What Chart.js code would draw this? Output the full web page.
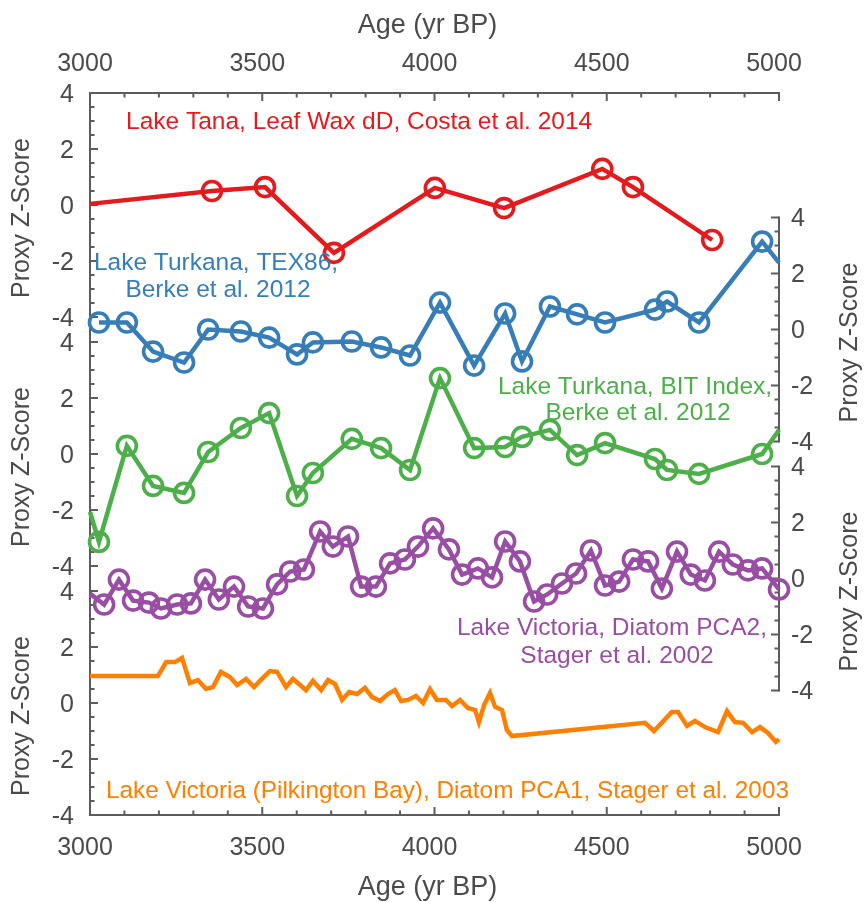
<!DOCTYPE html>
<html>
<head>
<meta charset="utf-8">
<script src="https://cdn.jsdelivr.net/npm/chart.js"></script>
<style>
html,body{margin:0;padding:0;background:#fff;}
#wrap{width:866px;height:902px;position:relative;}
</style>
</head>
<body>
<div id="wrap"><canvas id="c"></canvas></div>
<script>
// ---------- data ----------
const xTickValues = [3000, 3500, 4000, 4500, 5000];
const zTickValues = [-4, -2, 0, 2, 4];

// Lake Tana, Leaf Wax dD (Costa et al. 2014)
const tanaAge = [3354, 3508, 3708, 4001, 4202, 4487, 4576, 4806];
const tanaZ   = [0.50, 0.64, -1.71, 0.61, -0.11, 1.29, 0.64, -1.25];
const tanaEdgeAge = [3000];
const tanaEdgeZ   = [0.04];

// Lake Turkana (Berke et al. 2012) - shared sample ages
const turkanaAge = [3026, 3107, 3183, 3273, 3343, 3438, 3520, 3601, 3647, 3760, 3845, 3929,
                    4016, 4115, 4205, 4254, 4335, 4414, 4495, 4640, 4675, 4768, 4951];
const tex86Z = [0.25, 0.25, -0.79, -1.18, 0.00, -0.07, -0.29, -0.89, -0.46, -0.43, -0.64, -0.93,
                0.96, -1.29, 0.57, -1.14, 0.82, 0.54, 0.25, 0.71, 1.00, 0.25, 3.14];
const tex86EdgeAge = [5000];
const tex86EdgeZ   = [2.39];
const bitZ = [-3.14, 0.29, -1.14, -1.39, 0.07, 0.93, 1.46, -1.50, -0.68, 0.54, 0.21, -0.57,
              2.71, 0.21, 0.25, 0.61, 0.86, -0.04, 0.39, -0.18, -0.57, -0.71, 0.00];
const bitEdgeAge = [3000, 5000];
const bitEdgeZ   = [-2.07, 0.86];

// Lake Victoria, Diatom PCA2 (Stager et al. 2002)
const pca2Age = [3041, 3084, 3125, 3171, 3206, 3253, 3293, 3334, 3374, 3418, 3459, 3502,
                 3543, 3581, 3621, 3668, 3705, 3749, 3787, 3830, 3871, 3914, 3952, 3996,
                 4042, 4080, 4126, 4167, 4205, 4248, 4289, 4327, 4370, 4411, 4454, 4495,
                 4536, 4576, 4620, 4660, 4704, 4744, 4785, 4826, 4866, 4910, 4951, 5000];
const pca2Z = [-0.93, -0.04, -0.79, -0.86, -1.07, -0.93, -0.89, -0.04, -0.75, -0.29, -1.00, -1.07,
               -0.21, 0.25, 0.32, 1.68, 1.14, 1.50, -0.29, -0.29, 0.54, 0.68, 1.14, 1.79,
               1.04, 0.14, 0.36, 0.04, 1.32, 0.61, -0.82, -0.57, -0.18, 0.18, 1.00, -0.25,
               -0.11, 0.68, 0.61, -0.36, 0.96, 0.14, -0.07, 0.96, 0.50, 0.29, 0.36, -0.39];
const pca2EdgeAge = [3000];
const pca2EdgeZ   = [-0.54];

// Lake Victoria (Pilkington Bay), Diatom PCA1 (Stager et al. 2003)
const pca1Age = [3000, 3197, 3221, 3247, 3267, 3290, 3313, 3337, 3357, 3380, 3406, 3427,
                 3453, 3476, 3499, 3522, 3543, 3569, 3589, 3610, 3627, 3647, 3671, 3691,
                 3711, 3732, 3752, 3775, 3798, 3819, 3842, 3865, 3885, 3903, 3923, 3946,
                 3967, 3987, 4007, 4033, 4051, 4074, 4097, 4118, 4129, 4144, 4161, 4176,
                 4196, 4210, 4225, 4611, 4637, 4689, 4707, 4733, 4756, 4785, 4823, 4849,
                 4872, 4896, 4922, 4945, 4968, 4991, 5000];
const pca1Z = [0.96, 0.96, 1.46, 1.46, 1.61, 0.71, 0.82, 0.50, 0.57, 1.11, 0.93, 0.64,
               0.86, 0.57, 0.86, 1.14, 1.11, 0.57, 0.86, 0.64, 0.46, 0.79, 0.46, 0.82,
               0.68, 0.11, 0.39, 0.32, 0.54, 0.21, 0.07, 0.32, 0.46, 0.07, 0.11, 0.25,
               0.00, 0.50, 0.11, 0.11, -0.11, 0.11, -0.18, -0.25, -0.68, -0.07, 0.36, -0.14,
               -0.25, -0.96, -1.18, -0.71, -1.00, -0.32, -0.32, -0.82, -0.64, -0.86, -1.04, -0.29,
               -0.68, -0.71, -1.04, -0.86, -1.07, -1.39, -1.29];

// ---------- styling ----------
const FONT = '"Liberation Sans", Arial, Helvetica, sans-serif';
const TXT = '#4a4a4a';
const AXC = '#5c5c5c';
const RED = '#E41A1C', BLUE = '#377EB8', GREEN = '#4DAF4A', PURPLE = '#984EA3', ORANGE = '#FF7F00';
const UNIT_SPAN = 722 / 28;          // z-units covered by the plot height
const PANEL_STEP = 124.5 / 28;       // vertical offset between stacked panels (z-units)

function pts(age, z, edgeAge, edgeZ) {
  const a = age.map((x, i) => ({x: x, y: z[i], m: true}));
  (edgeAge || []).forEach((x, i) => a.push({x: x, y: edgeZ[i], m: false}));
  a.sort((p, q) => p.x - q.x);
  return a;
}

function zScale(pos, k) {
  const max = 4 + k * PANEL_STEP;
  return {
    type: 'linear', position: pos, min: max - UNIT_SPAN, max: max,
    afterBuildTicks: s => { s.ticks = zTickValues.map(v => ({value: v})); },
    afterFit: s => { s.width = 0; },
    grid: {display: false, drawTicks: false},
    border: {display: false},
    ticks: {display: false}
  };
}
function xScale(pos) {
  return {
    type: 'linear', position: pos, min: 3000, max: 5000,
    afterBuildTicks: s => { s.ticks = xTickValues.map(v => ({value: v})); },
    afterFit: s => { s.height = pos === 'top' ? 93 : 87; },
    grid: {display: false, drawTicks: false},
    border: {display: false},
    ticks: {font: {size: 25, family: FONT}, color: TXT, padding: pos === 'top' ? 14 : 18, labelOffset: -5,
            maxRotation: 0, autoSkip: false, callback: v => String(v)}
  };
}

function lineDS(data, color, yID, markers) {
  return {
    data: data, yAxisID: yID, xAxisID: 'x',
    borderColor: color, borderWidth: 4.5, tension: 0, clip: false,
    pointStyle: 'circle',
    pointRadius: markers ? (c => (c.raw && c.raw.m ? 9.5 : 0)) : 0,
    pointBorderWidth: 3.6, pointBorderColor: color, pointBackgroundColor: 'rgba(0,0,0,0)',
    pointHoverRadius: markers ? (c => (c.raw && c.raw.m ? 9.5 : 0)) : 0
  };
}

const Z_IDS = ['yTana', 'yTex', 'yBit', 'yPca2', 'yPca1'];

const framePlugin = {
  id: 'frame',
  beforeDatasetsDraw(chart) {
    const {ctx, chartArea: a, scales} = chart;
    ctx.save();
    ctx.strokeStyle = AXC; ctx.lineWidth = 2; ctx.lineCap = 'butt';
    const seg = (x1, y1, x2, y2) => { ctx.beginPath(); ctx.moveTo(x1, y1); ctx.lineTo(x2, y2); ctx.stroke(); };
    seg(a.left - 1, a.top, a.right + 1, a.top);
    seg(a.left - 1, a.bottom, a.right + 1, a.bottom);
    seg(a.left, a.top, a.left, a.bottom);
    const xs = scales.x;
    for (let t = 3000; t <= 5000; t += 100) {
      const p = xs.getPixelForValue(t);
      const L = t % 500 === 0 ? 8 : 4.5;
      seg(p, a.top, p, a.top + L);
      seg(p, a.bottom, p, a.bottom - L);
    }
    Z_IDS.forEach(id => {
      const s = scales[id];
      const left = s.position === 'left';
      const x0 = left ? a.left : a.right;
      const d = left ? 1 : -1;
      if (!left) seg(x0, s.getPixelForValue(4) - 1, x0, s.getPixelForValue(-4) + 1);
      for (let v = -4; v <= 4; v += 0.5) {
        const p = s.getPixelForValue(v);
        const L = v % 2 === 0 ? 8 : 4.5;
        seg(x0, p, x0 + d * L, p);
      }
    });
    // z-axis tick labels, taken from each scale's ticks
    ctx.fillStyle = TXT;
    ctx.font = '25px ' + FONT;
    ctx.textBaseline = 'middle';
    Z_IDS.forEach(id => {
      const s = scales[id];
      const left = s.position === 'left';
      ctx.textAlign = left ? 'right' : 'left';
      const x = left ? a.left - 16 : a.right + 12;
      s.ticks.forEach(t => ctx.fillText(String(t.value), x, s.getPixelForValue(t.value) + 2));
    });
    ctx.restore();
  },
  afterDraw(chart) {
    const {ctx, scales} = chart;
    ctx.save();
    // axis titles
    ctx.fillStyle = TXT;
    ctx.font = '27px ' + FONT;
    ctx.textAlign = 'center';
    ctx.textBaseline = 'alphabetic';
    ctx.fillText('Age (yr BP)', 427.5, 33);
    ctx.fillText('Age (yr BP)', 427.5, 895);
    ctx.font = '25px ' + FONT;
    ctx.textBaseline = 'middle';
    [['yTana', 22.5], ['yBit', 22.5], ['yPca1', 22.5], ['yTex', 850], ['yPca2', 850]].forEach(([id, x]) => {
      const s = scales[id];
      const cy = (s.getPixelForValue(4) + s.getPixelForValue(-4)) / 2 + 13;
      ctx.save();
      ctx.translate(x, cy);
      ctx.rotate(-Math.PI / 2);
      ctx.fillText('Proxy Z-Score', 0, 0);
      ctx.restore();
    });
    // series labels
    ctx.font = '24.5px ' + FONT;
    ctx.textBaseline = 'alphabetic';
    ctx.textAlign = 'left';
    ctx.fillStyle = RED;
    ctx.fillText('Lake Tana, Leaf Wax dD, Costa et al. 2014', 126, 129);
    ctx.font = '24.3px ' + FONT;
    ctx.fillStyle = ORANGE;
    ctx.fillText('Lake Victoria (Pilkington Bay), Diatom PCA1, Stager et al. 2003', 106, 798);
    ctx.font = '24.5px ' + FONT;
    ctx.textAlign = 'center';
    ctx.fillStyle = BLUE;
    ctx.fillText('Lake Turkana, TEX86,', 216, 270);
    ctx.fillText('Berke et al. 2012', 218, 297);
    ctx.fillStyle = GREEN;
    ctx.fillText('Lake Turkana, BIT Index,', 635, 394);
    ctx.fillText('Berke et al. 2012', 638, 420);
    ctx.fillStyle = PURPLE;
    ctx.fillText('Lake Victoria, Diatom PCA2,', 612, 635);
    ctx.fillText('Stager et al. 2002', 617, 663);
    ctx.restore();
  }
};

new Chart(document.getElementById('c'), {
  type: 'line',
  data: {
    datasets: [
      lineDS(pts(tanaAge, tanaZ, tanaEdgeAge, tanaEdgeZ), RED, 'yTana', true),
      lineDS(pts(turkanaAge, tex86Z, tex86EdgeAge, tex86EdgeZ), BLUE, 'yTex', true),
      lineDS(pts(turkanaAge, bitZ, bitEdgeAge, bitEdgeZ), GREEN, 'yBit', true),
      lineDS(pts(pca2Age, pca2Z, pca2EdgeAge, pca2EdgeZ), PURPLE, 'yPca2', true),
      lineDS(pts(pca1Age, pca1Z), ORANGE, 'yPca1', false)
    ]
  },
  options: {
    responsive: true, maintainAspectRatio: false, animation: false,
    layout: {padding: {left: 90, right: 87, top: 0, bottom: 0}},
    plugins: {legend: {display: false}, tooltip: {enabled: false}},
    events: [],
    scales: {
      x: xScale('bottom'),
      x2: xScale('top'),
      yTana: zScale('left', 0),
      yTex: zScale('right', 1),
      yBit: zScale('left', 2),
      yPca2: zScale('right', 3),
      yPca1: zScale('left', 4)
    }
  },
  plugins: [framePlugin]
});
</script>
</body>
</html>
